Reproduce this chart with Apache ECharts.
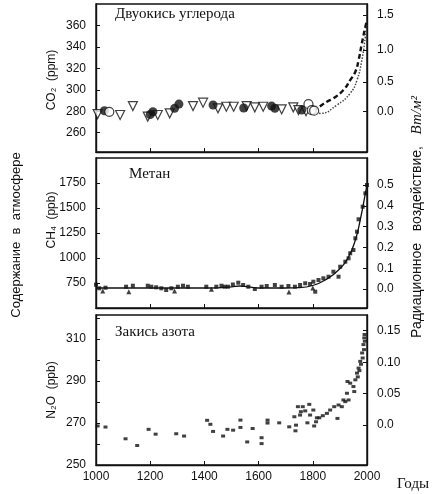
<!DOCTYPE html>
<html><head><meta charset="utf-8">
<script src="https://cdn.jsdelivr.net/npm/echarts@6/dist/echarts.min.js"></script>
<style>html,body{margin:0;padding:0;background:#fff}#c{width:433px;height:494px}</style>
</head><body><div id="c"></div>
<script>
// ---------- tick labels ----------
const xTicks = [1000, 1200, 1400, 1600, 1800, 2000];
const co2Ticks = [260, 280, 300, 320, 340, 360];
const ch4Ticks = [750, 1000, 1250, 1500, 1750];
const n2oTicks = [250, 270, 290, 310];
const n2oMinorTicks = [260, 270, 280, 290, 300, 310, 320];
const co2Forcing = ['0.0', '0.5', '1.0', '1.5'];
const ch4Forcing = ['0.0', '0.1', '0.2', '0.3', '0.4', '0.5'];
const n2oForcing = ['0.0', '0.05', '0.10', '0.15'];

// ---------- CO2 data ----------
const co2TriYears = [1006, 1089, 1136, 1191, 1228, 1272, 1358, 1395, 1450, 1481, 1508, 1556, 1586, 1617, 1685, 1728, 1747, 1775];
const co2TriValues = [277.4, 276.5, 284.8, 275, 276.5, 278, 284.8, 288, 282.7, 284.2, 284.2, 284.8, 283.6, 284.2, 281.8, 283.6, 281.1, 280];
const co2DotYears = [1031, 1200, 1210, 1290, 1306, 1432, 1545, 1648, 1660, 1759];
const co2DotValues = [280.5, 277, 279.5, 282.7, 286.7, 285.8, 283, 284.8, 282.7, 281.1];
const co2CircleYears = [1049, 1784, 1796, 1805];
const co2CircleValues = [279.5, 286.7, 281.1, 280.5];
const co2UpperYears = [1800, 1815, 1852, 1876, 1913, 1938, 1957, 1969, 1981, 1994, 2000];
const co2UpperValues = [281, 282.7, 288.9, 292, 299.8, 309, 316.8, 327.7, 343.3, 358.8, 365];
const co2LowerYears = [1790, 1827, 1889, 1938, 1963, 1981, 1994, 2000];
const co2LowerValues = [279, 278, 285.8, 296.7, 309, 327.7, 349.5, 362];

// ---------- CH4 data ----------
const ch4SqYears = [1000, 1012, 1035, 1111, 1136, 1191, 1204, 1222, 1241, 1259, 1278, 1302, 1321, 1339, 1407, 1444, 1463, 1475, 1487, 1505, 1525, 1543, 1562, 1586, 1611, 1630, 1660, 1685, 1710, 1734, 1753, 1772, 1790, 1802, 1809, 1821, 1839, 1858, 1876, 1895, 1901, 1920, 1932, 1938, 1950, 1957, 1963, 1969, 1984, 1994, 2000];
const ch4SqValues = [733, 697, 703, 713, 723, 723, 713, 707, 697, 680, 697, 713, 723, 713, 713, 713, 723, 713, 713, 735, 753, 730, 713, 690, 713, 720, 730, 713, 720, 713, 730, 747, 740, 763, 663, 780, 797, 813, 863, 813, 913, 963, 997, 1047, 1080, 1197, 1263, 1387, 1513, 1647, 1730];
const ch4TriYears = [1025, 1121, 1290, 1426, 1712, 1800];
const ch4TriValues = [670, 663, 670, 687, 660, 700];
const ch4LineYears = [1000, 1100, 1200, 1300, 1400, 1450, 1500, 1530, 1560, 1600, 1700, 1750, 1800, 1846, 1895, 1932, 1957, 1975, 1994, 2000];
const ch4LineValues = [700, 700, 700, 700, 700, 702, 712, 720, 712, 700, 700, 703, 725, 780, 880, 1013, 1180, 1380, 1647, 1740];

// ---------- N2O data ----------
const n2oYears = [1006, 1035, 1109, 1152, 1194, 1220, 1296, 1325, 1410, 1422, 1432, 1469, 1485, 1506, 1533, 1533, 1558, 1578, 1611, 1611, 1633, 1633, 1676, 1713, 1736, 1738, 1732, 1745, 1756, 1753, 1763, 1772, 1780, 1787, 1790, 1802, 1805, 1812, 1815, 1824, 1837, 1852, 1864, 1879, 1891, 1895, 1907, 1913, 1920, 1926, 1932, 1928, 1938, 1950, 1953, 1957, 1963, 1966, 1969, 1972, 1975, 1978, 1982, 1984, 1987, 1989, 1990, 1991, 1992];
const n2oValues = [268.6, 268.1, 262.5, 259.3, 267, 264.7, 264.9, 263.8, 271.3, 269.4, 266, 263.8, 267, 266.6, 271.4, 267.9, 261, 267.4, 263, 260.2, 271.4, 270, 270.1, 268.2, 266.3, 269, 273, 277.8, 275.4, 273.8, 277.8, 275.8, 270.1, 278.9, 273.8, 276.2, 268.6, 270.6, 272.5, 272.5, 273.5, 274.6, 276.2, 277.8, 272.2, 278.6, 277.8, 281, 280.2, 284.2, 281, 289.8, 289, 287.4, 285, 290.6, 293.8, 292, 296.2, 295, 299.4, 298, 303.4, 301, 307.4, 305, 310.6, 312.2, 309];

// forcing (W/m2) -> concentration on the left scale
const co2FromF = f => 280 * Math.exp(f / 5.4);
const ch4FromF = f => 690 + f * 2080;
const n2oFromF = f => 269 + f * 300;

const pairs = (xs, ys) => xs.map((x, i) => [x, ys[i]]);
const SANS = 'Liberation Sans, Arial, sans-serif';
const SERIF = 'Liberation Serif, Times New Roman, serif';
const plain = v => String(v);

function leftAxis(gi, min, max, labels, ticks) {
  return {
    type: 'value', gridIndex: gi, position: 'left', min, max,
    splitLine: { show: false },
    axisLine: { show: true, lineStyle: { color: '#111', width: 1.4 } },
    axisTick: { show: true, inside: true, length: 4, customValues: ticks || labels, lineStyle: { color: '#111' } },
    axisLabel: { customValues: labels, margin: 10, fontSize: 12, fontFamily: SANS, color: '#111', formatter: plain }
  };
}
function rightAxis(gi, min, max, labels, conv) {
  const map = {};
  const vals = labels.map(s => { const v = conv(parseFloat(s)); map[v] = s; return v; });
  return {
    type: 'value', gridIndex: gi, position: 'right', min, max,
    splitLine: { show: false },
    axisLine: { show: true, lineStyle: { color: '#111', width: 1.4 } },
    axisTick: { show: true, inside: true, length: 4, customValues: vals, lineStyle: { color: '#111' } },
    axisLabel: { customValues: vals, margin: 10, fontSize: 12, fontFamily: SANS, color: '#111',
      formatter: v => map[v] !== undefined ? map[v] : '' }
  };
}
function xAx(gi, showLabels) {
  return {
    type: 'value', gridIndex: gi, min: 1000, max: 2000, interval: 200,
    splitLine: { show: false },
    axisLine: { show: true, lineStyle: { color: '#111', width: 1.4 } },
    axisTick: { show: true, inside: true, length: 4, lineStyle: { color: '#111' } },
    axisLabel: { show: showLabels, margin: 6, fontSize: 12, fontFamily: SANS, color: '#111',
      customValues: xTicks, formatter: plain }
  };
}

const chart = echarts.init(document.getElementById('c'), null, { renderer: 'canvas' });
const gridBase = { left: 96, width: 271, show: true, borderColor: '#111', borderWidth: 1.4, backgroundColor: 'transparent' };
const openTri = { color: '#fff', borderColor: '#111', borderWidth: 1.2 };

chart.setOption({
  animation: false,
  backgroundColor: '#fff',
  grid: [
    Object.assign({ top: 4, height: 148 }, gridBase),
    Object.assign({ top: 158, height: 150 }, gridBase),
    Object.assign({ top: 315, height: 150 }, gridBase)
  ],
  xAxis: [xAx(0, false), xAx(1, false), xAx(2, true)],
  yAxis: [
    leftAxis(0, 242, 380, co2Ticks),
    rightAxis(0, 242, 380, co2Forcing, co2FromF),
    leftAxis(1, 500, 2000, ch4Ticks),
    rightAxis(1, 500, 2000, ch4Forcing, ch4FromF),
    leftAxis(2, 250, 321.5, n2oTicks, n2oMinorTicks),
    rightAxis(2, 250, 321.5, n2oForcing, n2oFromF)
  ],
  series: [
    { type: 'line', xAxisIndex: 0, yAxisIndex: 0, data: pairs(co2LowerYears, co2LowerValues), smooth: true,
      showSymbol: false, lineStyle: { color: '#444', width: 1.5, type: 'dotted' }, z: 2 },
    { type: 'line', xAxisIndex: 0, yAxisIndex: 0, data: pairs(co2UpperYears, co2UpperValues), smooth: true,
      showSymbol: false, lineStyle: { color: '#111', width: 2.4, type: [5, 3] }, z: 3 },
    { type: 'scatter', xAxisIndex: 0, yAxisIndex: 0, data: pairs(co2TriYears, co2TriValues),
      symbol: 'triangle', symbolRotate: 180, symbolSize: 9, itemStyle: openTri, z: 4 },
    { type: 'scatter', xAxisIndex: 0, yAxisIndex: 0, data: pairs(co2DotYears, co2DotValues),
      symbol: 'circle', symbolSize: 9, itemStyle: { color: '#111' }, z: 5 },
    { type: 'scatter', xAxisIndex: 0, yAxisIndex: 0, data: pairs(co2CircleYears, co2CircleValues),
      symbol: 'circle', symbolSize: 9, itemStyle: openTri, z: 5 },

    { type: 'line', xAxisIndex: 1, yAxisIndex: 2, data: pairs(ch4LineYears, ch4LineValues), smooth: true,
      showSymbol: false, lineStyle: { color: '#111', width: 1.3 }, z: 2 },
    { type: 'scatter', xAxisIndex: 1, yAxisIndex: 2, data: pairs(ch4SqYears, ch4SqValues),
      symbol: 'rect', symbolSize: 4, itemStyle: { color: '#111' }, z: 3 },
    { type: 'scatter', xAxisIndex: 1, yAxisIndex: 2, data: pairs(ch4TriYears, ch4TriValues),
      symbol: 'triangle', symbolSize: 5, itemStyle: { color: '#111' }, z: 3 },

    { type: 'scatter', xAxisIndex: 2, yAxisIndex: 4, data: pairs(n2oYears, n2oValues),
      symbol: 'rect', symbolSize: [4, 3], itemStyle: { color: '#111' }, z: 3 }
  ],
  graphic: [
    { type: 'text', x: 115, y: 14, style: { text: 'Двуокись углерода', font: '15px ' + SERIF, fill: '#111', textAlign: 'left', textVerticalAlign: 'middle' } },
    { type: 'text', x: 129, y: 174, style: { text: 'Метан', font: '15px ' + SERIF, fill: '#111', textAlign: 'left', textVerticalAlign: 'middle' } },
    { type: 'text', x: 115, y: 332, style: { text: 'Закись азота', font: '15px ' + SERIF, fill: '#111', textAlign: 'left', textVerticalAlign: 'middle' } },
    { type: 'text', x: 52, y: 80, rotation: Math.PI / 2, style: { text: 'CO₂  (ppm)', font: '12px ' + SANS, fill: '#111', textAlign: 'center', textVerticalAlign: 'middle' } },
    { type: 'text', x: 52, y: 220, rotation: Math.PI / 2, style: { text: 'CH₄  (ppb)', font: '12px ' + SANS, fill: '#111', textAlign: 'center', textVerticalAlign: 'middle' } },
    { type: 'text', x: 52, y: 390, rotation: Math.PI / 2, style: { text: 'N₂O  (ppb)', font: '12px ' + SANS, fill: '#111', textAlign: 'center', textVerticalAlign: 'middle' } },
    { type: 'text', x: 16, y: 235, rotation: Math.PI / 2, style: { text: 'Содержание  в  атмосфере', font: '13px ' + SANS, fill: '#111', textAlign: 'center', textVerticalAlign: 'middle' } },
    { type: 'text', x: 417, y: 217, rotation: Math.PI / 2, style: { text: 'Радиационное   воздействие,   {it|Вт/м²}', font: '14px ' + SANS, fill: '#111', textAlign: 'center', textVerticalAlign: 'middle',
      rich: { it: { fontStyle: 'italic', fontFamily: SERIF, fontSize: 15 } } } },
    { type: 'text', x: 397, y: 484, style: { text: 'Годы', font: '15px ' + SERIF, fill: '#111', textAlign: 'left', textVerticalAlign: 'middle' } }
  ]
});
</script></body></html>
